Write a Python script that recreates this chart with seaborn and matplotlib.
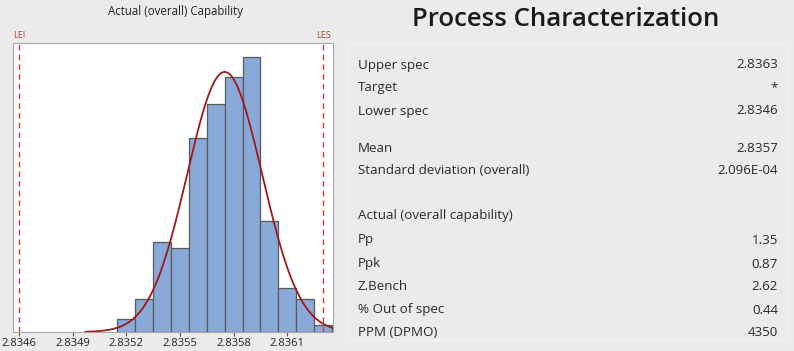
import numpy as np
import pandas as pd
import matplotlib
matplotlib.use("Agg")
import matplotlib.pyplot as plt
import seaborn as sns
from matplotlib.patches import Rectangle

# histogram data
bin_edges = [2.83515, 2.83525, 2.83535, 2.83545, 2.83555, 2.83565, 2.83575,
             2.83585, 2.83595, 2.83605, 2.83615, 2.83625, 2.83635]
counts = [4, 10, 27, 25, 58, 68, 76, 82, 33, 13, 10, 2]
lsl = 2.8346
usl = 2.8363
fit_mean = 2.83575
fit_sd = 2.096e-4
tick_vals = [2.8346, 2.8349, 2.8352, 2.8355, 2.8358, 2.8361]

# table on the right
group1_labels = ["Upper spec", "Target", "Lower spec"]
group1_values = ["2.8363", "*", "2.8346"]
group2_labels = ["Mean", "Standard deviation (overall)"]
group2_values = ["2.8357", "2.096E-04"]
group3_header = "Actual (overall capability)"
group3_labels = ["Pp", "Ppk", "Z.Bench", "% Out of spec", "PPM (DPMO)"]
group3_values = ["1.35", "0.87", "2.62", "0.44", "4350"]

bg = "#ebebeb"
sns.set_theme(style="white")
plt.rcParams["font.family"] = ["Open Sans", "DejaVu Sans"]

W, H = 794, 351
fig = plt.figure(figsize=(W / 100, H / 100), dpi=100, facecolor=bg)

def fx(px):
    return px / W

def fy(py):
    return 1 - py / H

ax = fig.add_axes([fx(13), fy(332), fx(333) - fx(13), fy(43) - fy(332)])
ax.set_facecolor("white")

centers = [(a + b) / 2 for a, b in zip(bin_edges[:-1], bin_edges[1:])]
sns.histplot(x=centers, weights=counts, bins=bin_edges, ax=ax,
             color="#89aad9", edgecolor="#5a5a5a", linewidth=0.9, alpha=1)

# fitted normal curve
n = sum(counts)
bw = bin_edges[1] - bin_edges[0]
xs = np.linspace(2.83497, 2.83640, 300)
ys = n * bw * np.exp(-0.5 * ((xs - fit_mean) / fit_sd) ** 2) / (fit_sd * np.sqrt(2 * np.pi))
sns.lineplot(x=xs, y=ys, ax=ax, color="#a01818", linewidth=1.3)

for v in [lsl, usl]:
    ax.axvline(v, color="#e03535", linestyle=(0, (4, 3)), linewidth=1.0)
ax.text(lsl, 1.012, "LEI", transform=ax.get_xaxis_transform(), ha="center", va="bottom",
        color="#c0392b", fontsize=6.5)
ax.text(usl, 1.012, "LES", transform=ax.get_xaxis_transform(), ha="center", va="bottom",
        color="#c0392b", fontsize=6.5)

ax.set_xlim(2.834566, 2.836356)
ax.set_ylim(0, 86.3)
ax.set_xticks(tick_vals)
ax.set_xticklabels([f"{t:.4f}" for t in tick_vals], fontsize=8, color="#222222")
ax.tick_params(axis="x", bottom=True, length=3, width=0.8, color="#555555", pad=1.5)
ax.set_yticks([])
ax.set_xlabel("")
ax.set_ylabel("")
for s in ax.spines.values():
    s.set_color("#a8a8a8")
    s.set_linewidth(0.8)

fig.text(fx(175), fy(11), "Actual (overall) Capability", ha="center", va="center",
         fontsize=8.3, color="#222222")

# right panel
fig.patches.append(Rectangle((fx(348), fy(340)), fx(788) - fx(348), fy(43) - fy(340),
                             transform=fig.transFigure, facecolor="none",
                             edgecolor="#f2f2f2", linewidth=0.8))
fig.text(fx(566), fy(19), "Process Characterization", ha="center", va="center",
         fontsize=18.5, fontweight="semibold", color="#1a1a1a")

txt_kw = dict(fontsize=9.6, color="#2a2a2a", va="center")
lab_x = fx(358)
val_x = fx(778)

rows = []
for lab, val, py in zip(group1_labels, group1_values, [65, 88, 111]):
    rows.append((lab, val, py))
for lab, val, py in zip(group2_labels, group2_values, [148, 170]):
    rows.append((lab, val, py))
for lab, val, py in zip(group3_labels, group3_values, [240, 264, 287, 310, 333]):
    rows.append((lab, val, py))
for lab, val, py in rows:
    fig.text(lab_x, fy(py), lab, ha="left", **txt_kw)
    fig.text(val_x, fy(py), val, ha="right", **txt_kw)
fig.text(lab_x, fy(216), group3_header, ha="left", **txt_kw)

fig.savefig("out.png", dpi=100, facecolor=bg)
